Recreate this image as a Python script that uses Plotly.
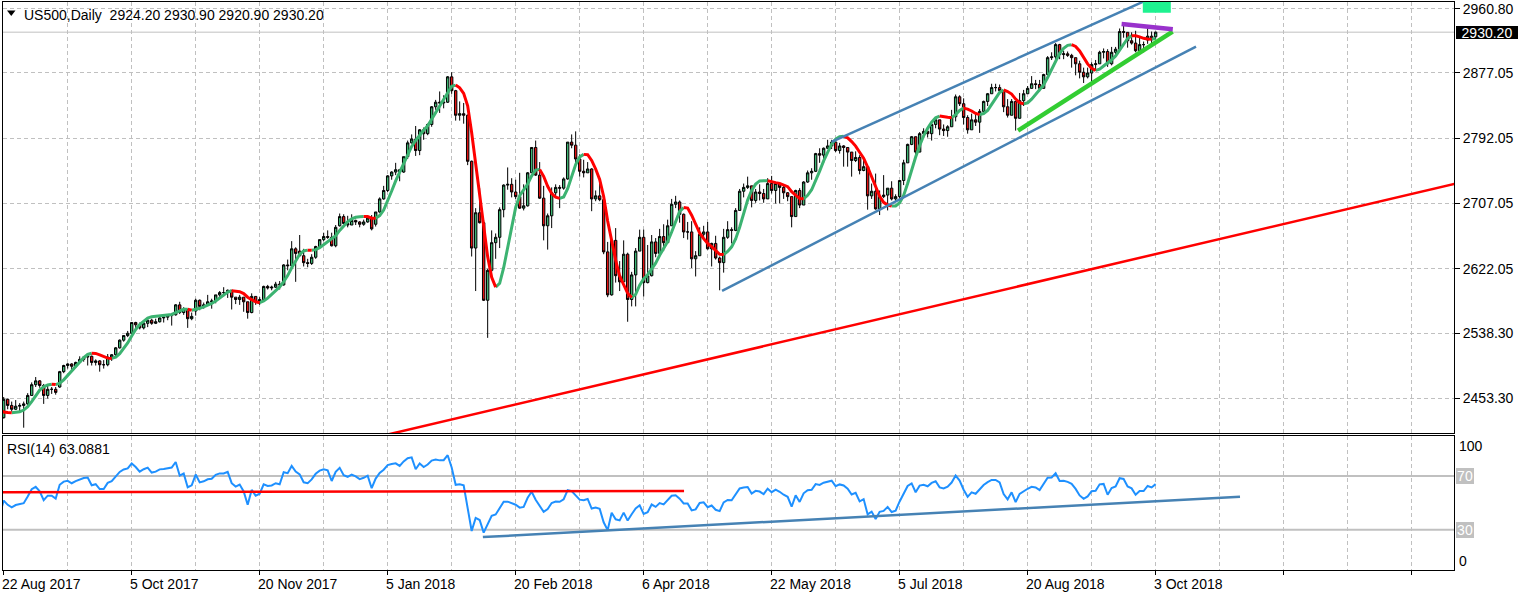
import numpy as np
import plotly.graph_objects as go

# ---------------- data (US500 daily, bar 0 = 22 Aug 2017, last bar = 3 Oct 2018) ----------------
warmup_close = [2427, 2426, 2443, 2448, 2459, 2459, 2461, 2474, 2473, 2473,
                2470, 2477, 2478, 2475, 2472, 2470, 2476, 2478, 2472, 2477,
                2481, 2475, 2474, 2438, 2441, 2466, 2465, 2468, 2430, 2426, 2428]

bar_open = [
    2428, 2452, 2444, 2439, 2443, 2444, 2446, 2457, 2471, 2476,
    2470, 2457, 2465, 2465, 2468, 2488, 2496, 2498, 2495, 2500,
    2504, 2507, 2508, 2500, 2502, 2497, 2497, 2507, 2510, 2519,
    2529, 2535, 2538, 2552, 2549, 2545, 2551, 2555, 2551, 2553,
    2558, 2559, 2561, 2562, 2575, 2565, 2569, 2557, 2567, 2581,
    2573, 2575, 2579, 2580, 2588, 2591, 2591, 2594, 2585, 2582,
    2585, 2579, 2565, 2586, 2579, 2582, 2599, 2597, 2598, 2602,
    2601, 2627, 2626, 2648, 2645, 2639, 2630, 2629, 2637, 2651,
    2660, 2664, 2663, 2652, 2678, 2690, 2681, 2679, 2685, 2683,
    2680, 2683, 2688, 2680, 2696, 2713, 2724, 2743, 2748, 2751,
    2748, 2768, 2786, 2791, 2776, 2803, 2798, 2810, 2833, 2839,
    2838, 2839, 2872, 2854, 2822, 2824, 2822, 2762, 2649, 2695,
    2682, 2581, 2620, 2656, 2663, 2699, 2731, 2732, 2722, 2716,
    2701, 2704, 2747, 2780, 2744, 2714, 2678, 2691, 2721, 2728,
    2727, 2739, 2787, 2783, 2765, 2749, 2747, 2752, 2713, 2717,
    2712, 2644, 2588, 2659, 2613, 2605, 2641, 2582, 2614, 2645,
    2663, 2604, 2613, 2657, 2642, 2664, 2656, 2678, 2706, 2709,
    2693, 2670, 2670, 2635, 2639, 2667, 2670, 2648, 2655, 2636,
    2630, 2663, 2673, 2672, 2698, 2723, 2728, 2730, 2711, 2722,
    2720, 2713, 2733, 2724, 2733, 2728, 2721, 2716, 2690, 2724,
    2705, 2735, 2747, 2749, 2772, 2770, 2779, 2782, 2787, 2776,
    2782, 2780, 2774, 2763, 2767, 2750, 2755, 2717, 2723, 2700,
    2716, 2718, 2727, 2713, 2716, 2737, 2760, 2784, 2794, 2774,
    2798, 2801, 2798, 2810, 2816, 2804, 2802, 2807, 2820, 2846,
    2837, 2819, 2803, 2816, 2813, 2827, 2840, 2850, 2858, 2858,
    2854, 2833, 2822, 2840, 2818, 2841, 2850, 2857, 2863, 2862,
    2857, 2875, 2897, 2898, 2914, 2901, 2902, 2900, 2897, 2889,
    2878, 2872, 2877, 2888, 2889, 2904, 2905, 2889, 2904, 2908,
    2931, 2930, 2919, 2916, 2906, 2914, 2920, 2925, 2924.2]

bar_high = [
    2455, 2453, 2449, 2451, 2447, 2449, 2460, 2474, 2481, 2477,
    2472, 2470, 2468, 2468, 2489, 2497, 2499, 2499, 2501, 2508,
    2508, 2509, 2509, 2504, 2503, 2503, 2511, 2511, 2520, 2530,
    2535, 2541, 2552, 2553, 2552, 2555, 2556, 2557, 2557, 2559,
    2559, 2562, 2563, 2576, 2579, 2572, 2570, 2565, 2583, 2582,
    2578, 2588, 2583, 2588, 2593, 2598, 2595, 2594, 2585, 2588,
    2585, 2579, 2590, 2586, 2585, 2600, 2601, 2600, 2605, 2606,
    2628, 2634, 2658, 2650, 2666, 2648, 2635, 2641, 2652, 2660,
    2669, 2672, 2669, 2679, 2694, 2693, 2691, 2693, 2686, 2684,
    2686, 2689, 2692, 2696, 2715, 2730, 2744, 2749, 2760, 2752,
    2768, 2789, 2797, 2808, 2804, 2806, 2811, 2834, 2842, 2853,
    2848, 2873, 2878, 2855, 2840, 2838, 2823, 2763, 2701, 2727,
    2685, 2622, 2672, 2668, 2702, 2732, 2754, 2740, 2738, 2747,
    2732, 2748, 2780, 2789, 2761, 2730, 2694, 2728, 2732, 2731,
    2741, 2787, 2797, 2801, 2771, 2764, 2761, 2753, 2724, 2740,
    2712, 2657, 2661, 2675, 2632, 2659, 2643, 2618, 2649, 2673,
    2673, 2653, 2666, 2662, 2674, 2680, 2686, 2713, 2717, 2711,
    2694, 2683, 2684, 2645, 2676, 2678, 2683, 2656, 2665, 2638,
    2674, 2684, 2676, 2701, 2726, 2733, 2742, 2730, 2726, 2732,
    2726, 2740, 2743, 2734, 2734, 2730, 2722, 2716, 2725, 2727,
    2736, 2750, 2753, 2773, 2779, 2780, 2790, 2790, 2792, 2786,
    2783, 2780, 2774, 2775, 2770, 2766, 2755, 2733, 2746, 2724,
    2744, 2727, 2736, 2719, 2737, 2764, 2785, 2795, 2794, 2800,
    2805, 2804, 2814, 2817, 2816, 2810, 2809, 2829, 2849, 2848,
    2844, 2822, 2824, 2826, 2830, 2841, 2851, 2863, 2863, 2862,
    2854, 2843, 2843, 2840, 2851, 2855, 2860, 2873, 2868, 2868,
    2876, 2899, 2904, 2916, 2915, 2906, 2905, 2902, 2897, 2893,
    2884, 2884, 2891, 2894, 2906, 2909, 2908, 2911, 2911, 2935,
    2941, 2930, 2930, 2932, 2924, 2918, 2937, 2931, 2930.9]

bar_low = [
    2427, 2439, 2436, 2438, 2436, 2415, 2443, 2457, 2468, 2467,
    2446, 2453, 2459, 2458, 2467, 2486, 2492, 2490, 2493, 2499,
    2501, 2496, 2496, 2496, 2488, 2492, 2495, 2502, 2507, 2518,
    2527, 2533, 2536, 2543, 2543, 2543, 2546, 2549, 2550, 2552,
    2552, 2555, 2548, 2561, 2563, 2562, 2545, 2555, 2561, 2568,
    2570, 2574, 2570, 2577, 2583, 2586, 2584, 2569, 2576, 2575,
    2566, 2557, 2564, 2575, 2575, 2581, 2595, 2594, 2597, 2595,
    2600, 2620, 2625, 2605, 2638, 2625, 2624, 2627, 2635, 2650,
    2658, 2661, 2651, 2650, 2677, 2680, 2676, 2679, 2679, 2676,
    2678, 2682, 2672, 2677, 2695, 2712, 2722, 2738, 2744, 2736,
    2747, 2765, 2785, 2769, 2770, 2790, 2796, 2807, 2829, 2825,
    2831, 2838, 2850, 2815, 2815, 2811, 2757, 2638, 2593, 2681,
    2580, 2532, 2618, 2635, 2649, 2689, 2725, 2715, 2713, 2700,
    2698, 2703, 2747, 2743, 2713, 2659, 2647, 2675, 2715, 2701,
    2725, 2738, 2779, 2759, 2742, 2741, 2747, 2697, 2710, 2710,
    2641, 2585, 2587, 2604, 2593, 2605, 2553, 2573, 2573, 2645,
    2586, 2603, 2612, 2637, 2642, 2645, 2656, 2678, 2701, 2682,
    2662, 2660, 2623, 2612, 2639, 2661, 2647, 2625, 2634, 2594,
    2617, 2661, 2655, 2671, 2698, 2715, 2726, 2702, 2708, 2711,
    2708, 2713, 2720, 2707, 2707, 2713, 2710, 2676, 2690, 2701,
    2705, 2734, 2738, 2748, 2760, 2760, 2778, 2778, 2774, 2772,
    2755, 2755, 2742, 2761, 2745, 2749, 2699, 2713, 2699, 2692,
    2714, 2698, 2711, 2710, 2713, 2731, 2760, 2783, 2770, 2774,
    2792, 2793, 2789, 2805, 2796, 2795, 2794, 2807, 2814, 2834,
    2810, 2798, 2803, 2808, 2799, 2825, 2834, 2850, 2853, 2851,
    2826, 2819, 2822, 2802, 2818, 2834, 2850, 2857, 2856, 2853,
    2857, 2875, 2894, 2894, 2895, 2895, 2898, 2884, 2874, 2870,
    2864, 2870, 2866, 2880, 2889, 2896, 2885, 2887, 2898, 2908,
    2923, 2910, 2914, 2904, 2906, 2904, 2915, 2913, 2920.9]

bar_close = [
    2452, 2444, 2439, 2443, 2444, 2446, 2457, 2471, 2476, 2470,
    2457, 2465, 2465, 2461, 2488, 2496, 2498, 2495, 2500, 2504,
    2507, 2508, 2500, 2502, 2497, 2497, 2507, 2510, 2519, 2529,
    2535, 2538, 2552, 2549, 2545, 2551, 2555, 2551, 2553, 2558,
    2559, 2561, 2562, 2575, 2565, 2569, 2557, 2560, 2581, 2573,
    2575, 2579, 2580, 2588, 2591, 2591, 2594, 2585, 2582, 2585,
    2579, 2565, 2586, 2579, 2582, 2599, 2597, 2598, 2602, 2601,
    2627, 2626, 2648, 2642, 2639, 2630, 2629, 2637, 2651, 2660,
    2664, 2663, 2652, 2676, 2690, 2681, 2679, 2685, 2683, 2680,
    2683, 2688, 2674, 2696, 2713, 2724, 2743, 2748, 2751, 2748,
    2768, 2786, 2791, 2776, 2803, 2798, 2810, 2833, 2839, 2838,
    2839, 2872, 2854, 2822, 2824, 2822, 2762, 2649, 2695, 2682,
    2581, 2620, 2656, 2663, 2699, 2731, 2732, 2722, 2716, 2701,
    2704, 2747, 2780, 2744, 2714, 2678, 2691, 2721, 2728, 2727,
    2739, 2787, 2783, 2765, 2749, 2747, 2752, 2713, 2717, 2712,
    2644, 2588, 2659, 2613, 2605, 2641, 2582, 2614, 2645, 2663,
    2604, 2613, 2657, 2642, 2664, 2656, 2678, 2706, 2709, 2693,
    2670, 2670, 2635, 2639, 2667, 2670, 2648, 2655, 2636, 2630,
    2663, 2673, 2672, 2698, 2723, 2728, 2730, 2711, 2722, 2720,
    2713, 2733, 2724, 2733, 2728, 2721, 2716, 2690, 2724, 2705,
    2735, 2747, 2749, 2772, 2770, 2779, 2782, 2787, 2776, 2782,
    2780, 2774, 2763, 2767, 2750, 2755, 2717, 2723, 2700, 2716,
    2718, 2727, 2713, 2716, 2737, 2760, 2784, 2794, 2774, 2798,
    2801, 2798, 2810, 2816, 2804, 2802, 2807, 2820, 2846, 2837,
    2819, 2803, 2816, 2813, 2827, 2840, 2850, 2858, 2858, 2854,
    2833, 2822, 2840, 2818, 2841, 2850, 2857, 2863, 2862, 2857,
    2875, 2897, 2898, 2914, 2901, 2902, 2900, 2897, 2889, 2878,
    2872, 2877, 2888, 2889, 2904, 2905, 2889, 2904, 2908, 2931,
    2930, 2919, 2916, 2906, 2914, 2914, 2925, 2923, 2930.2]

price_ticks = [2453.30, 2538.30, 2622.05, 2707.05, 2792.05, 2877.05, 2960.80]
date_label_bars = [0, 32, 64, 96, 128, 160, 192, 224, 256, 288]
date_labels = ["22 Aug 2017", "5 Oct 2017", "20 Nov 2017", "5 Jan 2018", "20 Feb 2018",
               "6 Apr 2018", "22 May 2018", "5 Jul 2018", "20 Aug 2018", "3 Oct 2018"]
last_price = 2930.20
rsi_levels = [70, 30]

# hand-drawn objects on the chart (bar index, price / RSI value)
red_trend_bar, red_trend_price = [95, 365], [2404.9, 2735.4]
chan_low_bar, chan_low_price = [179.6, 298.1], [2593.1, 2911.4]
chan_up_bar, chan_up_price = [207.0, 289.1], [2787.2, 2979.8]
support_bar, support_price = [253.6, 292.25], [2801.9, 2930.8]
resist_bar, resist_price = [279.5, 292.3], [2940.9, 2934.0]
box_bar, box_price = [284.8, 291.8], [2955.6, 2975.0]
rsi_red_bar, rsi_red_val = [-1, 170.1], [57.9, 58.9]
rsi_blue_bar, rsi_blue_val = [119.8, 309.1], [24.5, 54.6]

# ---------------- indicators ----------------
def wma(a, n):
    w = np.arange(1, n + 1, dtype=float)
    out = np.full(len(a), np.nan)
    for t in range(n - 1, len(a)):
        seg = a[t - n + 1:t + 1]
        if np.any(np.isnan(seg)):
            continue
        out[t] = np.dot(seg, w) / w.sum()
    return out

def hma(a, n):
    raw = 2 * wma(a, n // 2) - wma(a, n)
    return wma(raw, int(np.sqrt(n)))

def rsi(c, n=14):
    d = np.diff(c)
    g = np.where(d > 0, d, 0.0)
    l = np.where(d < 0, -d, 0.0)
    out = np.full(len(c), np.nan)
    ag, al = g[:n].mean(), l[:n].mean()
    out[n] = 100 - 100 / (1 + ag / al) if al > 0 else 100
    for i in range(n, len(d)):
        ag = (ag * (n - 1) + g[i]) / n
        al = (al * (n - 1) + l[i]) / n
        out[i + 1] = 100 - 100 / (1 + ag / al) if al > 0 else 100
    return out

nw = len(warmup_close)
all_close = np.array(warmup_close + bar_close, dtype=float)
x_all = np.arange(len(all_close)) - nw
ma_all = hma(all_close, 16)
rsi_all = rsi(all_close, 14)

xm = x_all[nw - 1:]
ym = ma_all[nw - 1:]
up_x, up_y, dn_x, dn_y = [], [], [], []
cur = None
for t in range(1, len(ym)):
    c = 'up' if ym[t] >= ym[t - 1] else 'dn'
    tx, ty = (up_x, up_y) if c == 'up' else (dn_x, dn_y)
    if c != cur:
        tx.extend([None, float(xm[t - 1])])
        ty.extend([None, float(ym[t - 1])])
        cur = c
    tx.append(float(xm[t]))
    ty.append(float(ym[t]))

xr = x_all[nw - 1:]
yr = rsi_all[nw - 1:]

# ---------------- figure ----------------
W, H = 1522, 597
ML, MT, MR, MB = 3, 2, 68, 27
PW, PH = W - ML - MR, H - MT - MB
def px_x(px):
    return (px - ML) / PW
def px_y(py):
    return (MT + PH - py) / PH

FONT = "Liberation Sans, Arial, sans-serif"
FS = 14
GRID = "#C0C0C0"
DASH = "4px,3px"
X_RANGE = [-0.175, 362.6]
BULL, BEAR = "#3CB371", "#E01010"

fig = go.Figure()
fig.add_trace(go.Candlestick(
    x=list(range(len(bar_close))), open=bar_open, high=bar_high, low=bar_low, close=bar_close,
    increasing=dict(line=dict(color="black", width=1), fillcolor=BULL),
    decreasing=dict(line=dict(color="black", width=1), fillcolor=BEAR),
    whiskerwidth=0, hoverinfo="skip", xaxis="x", yaxis="y"))

fig.add_trace(go.Scatter(x=up_x, y=up_y, mode="lines", line=dict(color="#3CB371", width=3),
                         connectgaps=False, hoverinfo="skip", xaxis="x", yaxis="y"))
fig.add_trace(go.Scatter(x=dn_x, y=dn_y, mode="lines", line=dict(color="#FF0000", width=3),
                         connectgaps=False, hoverinfo="skip", xaxis="x", yaxis="y"))

for bx, by, col, wd in [(red_trend_bar, red_trend_price, "#FF0000", 2.5),
                        (chan_low_bar, chan_low_price, "#4682B4", 2.5),
                        (chan_up_bar, chan_up_price, "#4682B4", 2.5),
                        (support_bar, support_price, "#32CD32", 4.5),
                        (resist_bar, resist_price, "#9932CC", 4.5)]:
    fig.add_trace(go.Scatter(x=bx, y=by, mode="lines", line=dict(color=col, width=wd),
                             hoverinfo="skip", xaxis="x", yaxis="y"))

fig.add_trace(go.Scatter(x=xr, y=yr, mode="lines", line=dict(color="#1E90FF", width=2),
                         hoverinfo="skip", xaxis="x2", yaxis="y2"))
fig.add_trace(go.Scatter(x=rsi_red_bar, y=rsi_red_val, mode="lines", line=dict(color="#FF0000", width=2.5),
                         hoverinfo="skip", xaxis="x2", yaxis="y2"))
fig.add_trace(go.Scatter(x=rsi_blue_bar, y=rsi_blue_val, mode="lines", line=dict(color="#4682B4", width=2.5),
                         hoverinfo="skip", xaxis="x2", yaxis="y2"))

shapes = [
    dict(type="line", xref="x", yref="y", x0=X_RANGE[0], x1=X_RANGE[1], y0=last_price, y1=last_price,
         line=dict(color=GRID, width=1), layer="below"),
    dict(type="rect", xref="x", yref="y", x0=box_bar[0], x1=box_bar[1], y0=box_price[0], y1=box_price[1],
         fillcolor="#1EF290", line=dict(width=0), layer="above"),
    dict(type="path", xref="paper", yref="paper",
         path="M %f,%f L %f,%f L %f,%f Z" % (px_x(7), px_y(10.5), px_x(15.5), px_y(10.5), px_x(11.25), px_y(16)),
         fillcolor="black", line=dict(width=0), layer="above"),
]
for lv in rsi_levels:
    shapes.append(dict(type="line", xref="x2", yref="y2", x0=X_RANGE[0], x1=X_RANGE[1], y0=lv, y1=lv,
                       line=dict(color=GRID, width=2), layer="below"))

ann = []
def txt(text, x, y, xref="paper", yref="paper", color="black", xanchor="left", **kw):
    d = dict(text=text, x=x, y=y, xref=xref, yref=yref, showarrow=False, xanchor=xanchor,
             yanchor="middle", font=dict(family=FONT, size=FS, color=color), borderpad=0, borderwidth=0)
    d.update(kw)
    ann.append(d)

txt("US500,Daily\u00a0 2924.20 2930.90 2920.90 2930.20", px_x(23.5), px_y(14.5))
txt("RSI(14) 63.0881", px_x(7), px_y(448.5))
for b, lab in zip(date_label_bars, date_labels):
    txt(lab, b, px_y(583.5), xref="x2", xshift=-1.5)
txt("%.2f" % last_price, px_x(1456), last_price, yref="y", color="white",
    bgcolor="black", width=60, height=11, borderpad=1, align="center")
for lv in rsi_levels:
    txt(str(lv), px_x(1456), lv, yref="y2", color="white", bgcolor=GRID,
        width=16, height=14, borderpad=1, align="center")
txt("100", px_x(1459), px_y(446))
txt("0", px_x(1459), px_y(561))

main_dom = [px_y(433.3), 1]
rsi_dom = [0, px_y(435.7)]

axis_common = dict(showline=True, mirror=True, linecolor="black", linewidth=1, zeroline=False,
                   fixedrange=True)
fig.update_layout(
    width=W, height=H, margin=dict(l=ML, r=MR, t=MT, b=MB),
    paper_bgcolor="white", plot_bgcolor="white", showlegend=False, hovermode=False,
    font=dict(family=FONT, size=FS, color="black"), boxgap=0.15,
    shapes=shapes, annotations=ann,
    xaxis=dict(anchor="y", domain=[0, 1], range=X_RANGE, rangeslider=dict(visible=False),
               tickmode="array", tickvals=list(range(0, 363, 16)), showticklabels=False, ticks="",
               showgrid=True, gridcolor=GRID, griddash=DASH, gridwidth=1, **axis_common),
    yaxis=dict(anchor="x", domain=main_dom, range=[2407.7, 2969.5], side="right",
               tickmode="array", tickvals=price_ticks, ticktext=["%.2f" % v for v in price_ticks],
               ticks="outside", ticklen=5, tickcolor="black",
               showgrid=True, gridcolor=GRID, griddash=DASH, gridwidth=1,
               tickfont=dict(family=FONT, size=FS, color="black"), **axis_common),
    xaxis2=dict(anchor="y2", domain=[0, 1], range=X_RANGE,
                tickmode="array", tickvals=list(range(0, 363, 32)), showticklabels=False,
                ticks="outside", ticklen=4, tickcolor="black",
                minor=dict(tickvals=list(range(16, 363, 32)), ticks="", showgrid=True,
                           gridcolor=GRID, griddash=DASH, gridwidth=1),
                showgrid=True, gridcolor=GRID, griddash=DASH, gridwidth=1, **axis_common),
    yaxis2=dict(anchor="x2", domain=rsi_dom, range=[0, 100], side="right",
                tickmode="array", tickvals=[], showgrid=False, ticks="", **axis_common),
)

fig.write_html("out.html")
